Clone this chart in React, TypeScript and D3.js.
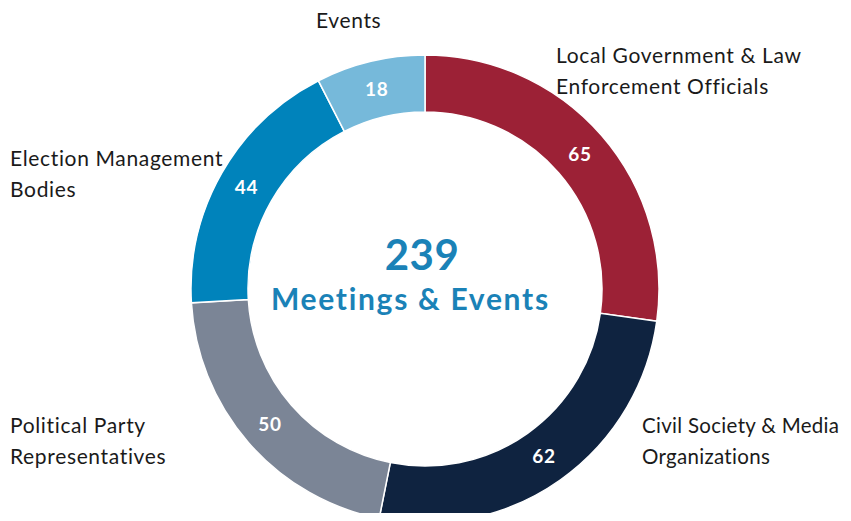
import React, { useEffect, useRef } from "react";
import * as d3 from "d3";

const categories = [
  "Local Government & Law Enforcement Officials",
  "Civil Society & Media Organizations",
  "Political Party Representatives",
  "Election Management Bodies",
  "Events",
];
const values = [65, 62, 50, 44, 18];
const labelLines = [
  ["Local Government & Law", "Enforcement Officials"],
  ["Civil Society & Media", "Organizations"],
  ["Political Party", "Representatives"],
  ["Election Management", "Bodies"],
  ["Events"],
];
const colors = ["#9c2136", "#0f2340", "#7b8596", "#0083bb", "#76b9da"];
const centerTitle = "Meetings & Events";

// where the outside labels sit (first line baseline, left edge)
const labelPos = [
  { x: 556, y: 63 },
  { x: 642, y: 433 },
  { x: 10, y: 433 },
  { x: 10, y: 166 },
  { x: 316, y: 28 },
];

function drawDonut(node: SVGSVGElement) {
  const width = 851;
  const height = 521;
  const cx = 425;
  const cy = 289;
  const outer = 234;
  const inner = 177;

  const svg = d3.select(node);
  svg.selectAll("*").remove();
  svg.attr("width", width).attr("height", height).style("display", "block");

  const data = categories.map((c, i) => ({ name: c, value: values[i], color: colors[i], i }));

  const pie = d3.pie<any>().sort(null).value((d) => d.value);
  const arc = d3.arc<any>().innerRadius(inner).outerRadius(outer);
  const arcs = pie(data);

  const g = svg.append("g").attr("transform", `translate(${cx},${cy})`);

  g.selectAll("path")
    .data(arcs)
    .enter().append("path")
    .attr("d", arc)
    .attr("fill", (d) => d.data.color)
    .attr("stroke", "#fff")
    .attr("stroke-width", 1.5);

  g.selectAll(".val")
    .data(arcs)
    .enter().append("text")
    .attr("class", "val")
    .attr("transform", (d) => `translate(${arc.centroid(d)})`)
    .attr("text-anchor", "middle")
    .attr("dy", "0.36em")
    .style("font-family", "Lato, sans-serif")
    .style("font-weight", 700)
    .style("font-size", "19px")
    .style("letter-spacing", "0.8px")
    .style("fill", "#fff")
    .text((d) => d.data.value);

  const total = d3.sum(values);
  g.append("text")
    .attr("x", -3)
    .attr("y", -19)
    .attr("text-anchor", "middle")
    .style("font-family", "Lato, sans-serif")
    .style("font-weight", 700)
    .style("font-size", "42px")
    .style("letter-spacing", "0.5px")
    .style("fill", "#1a82b7")
    .text(total);

  // letter-spacing leaves a trailing gap, so shift by half of it
  g.append("text")
    .attr("x", -15.5 + 0.85)
    .attr("y", 21)
    .attr("text-anchor", "middle")
    .style("font-family", "Lato, sans-serif")
    .style("font-weight", 700)
    .style("font-size", "30px")
    .style("letter-spacing", "1.7px")
    .style("fill", "#1a82b7")
    .text(centerTitle);

  const labels = svg.selectAll(".lbl")
    .data(data)
    .enter().append("text")
    .attr("class", "lbl")
    .style("font-family", "Lato, sans-serif")
    .style("font-size", (d) => (d.i === 1 ? "20.5px" : "21px"))
    .style("letter-spacing", (d) => (d.i === 1 ? "0.3px" : "0.65px"))
    .style("fill", "#1a1a1a");

  labels.selectAll("tspan")
    .data((d) => labelLines[d.i].map((t) => ({ t, i: d.i })))
    .enter().append("tspan")
    .attr("x", (d) => labelPos[d.i].x)
    .attr("y", (d, j) => labelPos[d.i].y + j * 30.5)
    .text((d) => d.t);
}

export default function App() {
  const ref = useRef<SVGSVGElement>(null);
  useEffect(() => {
    if (ref.current) drawDonut(ref.current);
  }, []);
  return (
    <div style={{ margin: -8 }}>
      <svg ref={ref}></svg>
    </div>
  );
}
